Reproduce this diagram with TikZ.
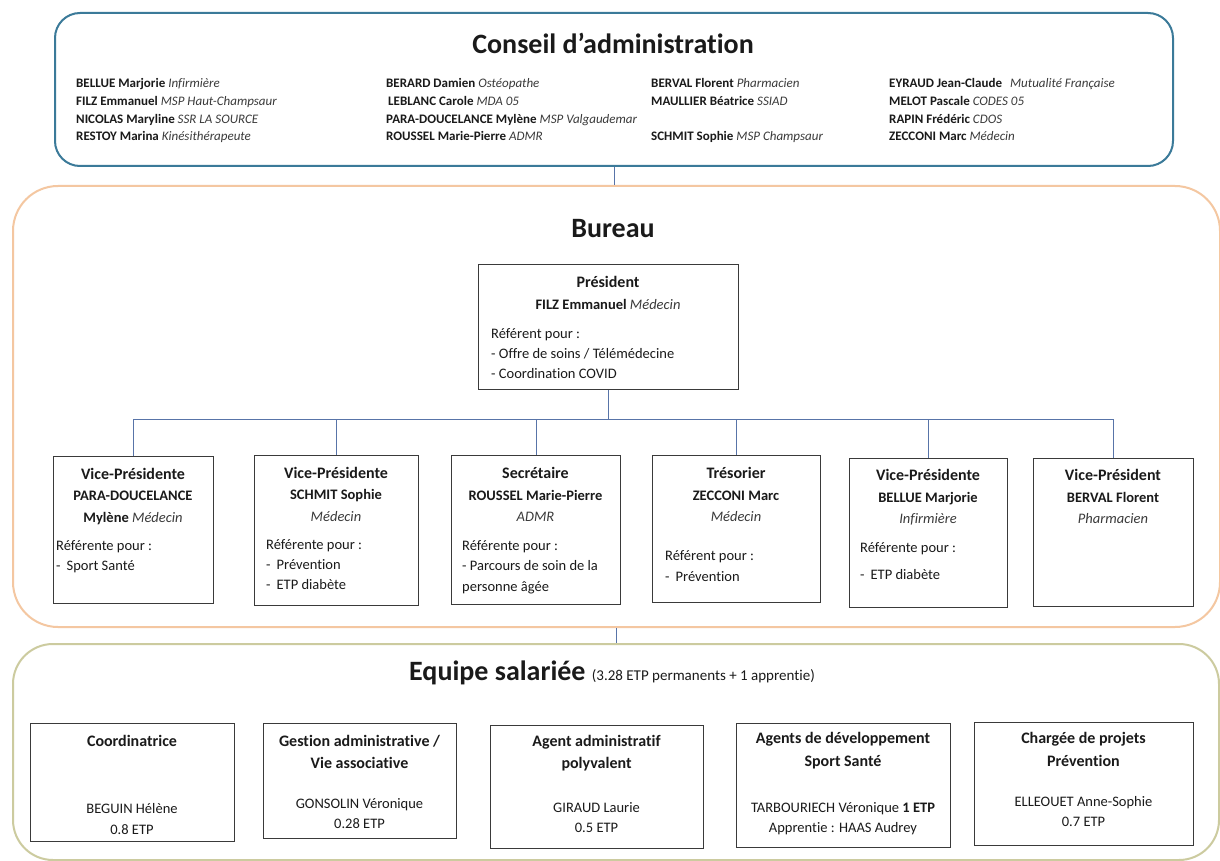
\documentclass[tikz,border=0pt]{standalone}
\usepackage{fontspec}
\setmainfont{Carlito}[Ligatures=NoCommon]
\definecolor{cablue}{HTML}{3B7A99}
\definecolor{bupeach}{HTML}{F4C7A1}
\definecolor{eqolive}{HTML}{CCCB9F}
\definecolor{linkblue}{HTML}{5874A8}
\definecolor{boxgray}{HTML}{3A3A3A}
\definecolor{txtblack}{HTML}{1A1A1A}
\definecolor{roleg}{HTML}{3A3A3A}
\newcommand{\rolet}[1]{{\mdseries\itshape\color{roleg}#1}}
\begin{document}
\begin{tikzpicture}[x=1pt,y=-1pt,
  panel/.style={line width=2pt, fill=white, inner sep=0pt, anchor=north west},
  bbox/.style={draw=boxgray, line width=1.3pt, fill=white, inner sep=0pt, anchor=north west},
  link/.style={draw=linkblue, line width=1pt},
  ttl/.style={font=\fontsize{28}{32}\selectfont\bfseries, text=txtblack, anchor=base, inner sep=0pt},
  mem/.style={font=\fontsize{13}{15}\selectfont, text=txtblack, anchor=base west, inner sep=0pt},
  hd/.style={font=\fontsize{16}{19}\selectfont\bfseries, text=txtblack, anchor=base, inner sep=0pt},
  tx/.style={font=\fontsize{14.5}{17}\selectfont, text=txtblack, anchor=base, inner sep=0pt},
  txl/.style={tx, anchor=base west}]
\useasboundingbox (0,0) rectangle (1220,861);
\fill[white] (0,0) rectangle (1220,861);

% panels
\node[panel, draw=cablue, rounded corners=25pt, minimum width=1118pt, minimum height=153pt] (conseil) at (54,12) {};
\node[panel, draw=bupeach, rounded corners=45pt, minimum width=1207pt, minimum height=441pt] (bureau) at (12,185) {};
\node[panel, draw=eqolive, rounded corners=40pt, minimum width=1206pt, minimum height=216pt] (equipe) at (12,643) {};
\draw[link] (conseil.south) -- (conseil.south |- bureau.north);
\draw[link] (bureau.south) -- (bureau.south |- equipe.north);

% Conseil
\node[ttl] (tConseil) at (613,54) {Conseil d’administration};
\node[mem] (m11) at (76,88) {\textbf{BELLUE Marjorie} \rolet{Infirmière}};
\node[mem] (m21) at (76,106) {\textbf{FILZ Emmanuel} \rolet{MSP Haut-Champsaur}};
\node[mem] (m31) at (76,123.5) {\textbf{NICOLAS Maryline} \rolet{SSR LA SOURCE}};
\node[mem] (m41) at (76,141) {\textbf{RESTOY Marina} \rolet{Kinésithérapeute}};
\node[mem] (m12) at (386,88) {\textbf{BERARD Damien} \rolet{Ostéopathe}};
\node[mem] (m22) at (388,106) {\textbf{LEBLANC Carole} \rolet{MDA 05}};
\node[mem] (m32) at (386,123.5) {\textbf{PARA-DOUCELANCE Mylène} \rolet{MSP Valgaudemar}};
\node[mem] (m42) at (386,141) {\textbf{ROUSSEL Marie-Pierre} \rolet{ADMR}};
\node[mem] (m13) at (651,88) {\textbf{BERVAL Florent} \rolet{Pharmacien}};
\node[mem] (m23) at (651,106) {\textbf{MAULLIER Béatrice} \rolet{SSIAD}};
\node[mem] (m43) at (651,141) {\textbf{SCHMIT Sophie} \rolet{MSP Champsaur}};
\node[mem] (m14) at (889,88) {\textbf{EYRAUD Jean-Claude}\hspace{8pt}\rolet{Mutualité Française}};
\node[mem] (m24) at (889,106) {\textbf{MELOT Pascale} \rolet{CODES 05}};
\node[mem] (m34) at (889,123.5) {\textbf{RAPIN Frédéric} \rolet{CDOS}};
\node[mem] (m44) at (889,141) {\textbf{ZECCONI Marc} \rolet{Médecin}};

% Bureau
\node[ttl] (tBureau) at (613,237) {Bureau};
\node[bbox, minimum width=260pt, minimum height=125pt] (pres) at (478,264) {};
\node[bbox, minimum width=160pt, minimum height=147pt] (v1) at (53,456) {};
\node[bbox, minimum width=164pt, minimum height=150pt] (v2) at (254,455) {};
\node[bbox, minimum width=169pt, minimum height=149pt] (v3) at (451,455) {};
\node[bbox, minimum width=168pt, minimum height=147pt] (v4) at (652,455) {};
\node[bbox, minimum width=158pt, minimum height=149pt] (v5) at (849,458) {};
\node[bbox, minimum width=160pt, minimum height=148pt] (v6) at (1033,458) {};
\coordinate (bus) at (613,419);
\draw[link] (pres.south) -- (pres.south |- bus);
\draw[link] (v1.north |- bus) -- (v6.north |- bus);
\foreach \b in {v1,v2,v3,v4,v5,v6} \draw[link] (\b.north |- bus) -- (\b.north);

\node[hd] (p1) at (608,287.5) {Président};
\node[tx] (p2) at (608,309) {\textbf{FILZ Emmanuel} \rolet{Médecin}};
\node[txl] (p3) at (491,338) {Référent pour :};
\node[txl] (p4) at (491,358) {- Offre de soins / Télémédecine};
\node[txl] (p5) at (491,378) {- Coordination COVID};

\node[hd] (a1) at (133,479.5) {Vice-Présidente};
\node[tx] (a2) at (133,500) {\textbf{PARA-DOUCELANCE}};
\node[tx] (a3) at (133,522) {\textbf{Mylène} \rolet{Médecin}};
\node[txl] (a4) at (56,550) {Référente pour :};
\node[txl] (a5) at (56,570) {-\hspace{6pt}Sport Santé};

\node[hd] (b1) at (336,478.5) {Vice-Présidente};
\node[tx] (b2) at (336,499) {\textbf{SCHMIT Sophie}};
\node[tx] (b3) at (336,521) {\rolet{Médecin}};
\node[txl] (b4) at (266,549) {Référente pour :};
\node[txl] (b5) at (266,569) {-\hspace{6pt}Prévention};
\node[txl] (b6) at (266,589) {-\hspace{6pt}ETP diabète};

\node[hd] (c1) at (535.5,478.5) {Secrétaire};
\node[tx] (c2) at (535.5,500) {\textbf{ROUSSEL Marie-Pierre}};
\node[tx] (c3) at (535.5,521) {\rolet{ADMR}};
\node[txl] (c4) at (462,550) {Référente pour :};
\node[txl] (c5) at (462,570) {- Parcours de soin de la};
\node[txl] (c6) at (462,591) {personne âgée};

\node[hd] (d1) at (736,478.5) {Trésorier};
\node[tx] (d2) at (736,500) {\textbf{ZECCONI Marc}};
\node[tx] (d3) at (736,521) {\rolet{Médecin}};
\node[txl] (d4) at (665,560) {Référent pour :};
\node[txl] (d5) at (665,581) {-\hspace{6pt}Prévention};

\node[hd] (e1) at (928,480.5) {Vice-Présidente};
\node[tx] (e2) at (928,502) {\textbf{BELLUE Marjorie}};
\node[tx] (e3) at (928,523) {\rolet{Infirmière}};
\node[txl] (e4) at (860,552) {Référente pour :};
\node[txl] (e5) at (860,579) {-\hspace{6pt}ETP diabète};

\node[hd] (f1) at (1113,480.5) {Vice-Président};
\node[tx] (f2) at (1113,502) {\textbf{BERVAL Florent}};
\node[tx] (f3) at (1113,523) {\rolet{Pharmacien}};

% Equipe
\node[ttl, anchor=base west] (tEquipe) at (409,680) {Equipe salariée {\fontsize{15}{17}\selectfont\mdseries (3.28 ETP permanents + 1 apprentie)}};
\node[bbox, minimum width=204pt, minimum height=118pt] (eA) at (30,723) {};
\node[bbox, minimum width=193pt, minimum height=115pt] (eB) at (263,723) {};
\node[bbox, minimum width=213pt, minimum height=123pt] (eC) at (490,725) {};
\node[bbox, minimum width=214pt, minimum height=124pt] (eD) at (736,723) {};
\node[bbox, minimum width=219pt, minimum height=123pt] (eE) at (974,722) {};

\node[hd] (ea1) at (132,746.5) {Coordinatrice};
\node[tx] (ea2) at (132,813) {BEGUIN Hélène};
\node[tx] (ea3) at (132,834) {0.8 ETP};

\node[hd] (eb1) at (359.5,746.5) {Gestion administrative /};
\node[hd] (eb2) at (359.5,768.5) {Vie associative};
\node[tx] (eb3) at (359.5,808) {GONSOLIN Véronique};
\node[tx] (eb4) at (359.5,828) {0.28 ETP};

\node[hd] (ec1) at (596.5,746.5) {Agent administratif};
\node[hd] (ec2) at (596.5,768.5) {polyvalent};
\node[tx] (ec3) at (596.5,812) {GIRAUD Laurie};
\node[tx] (ec4) at (596.5,832) {0.5 ETP};

\node[hd] (ed1) at (843,743.5) {Agents de développement};
\node[hd] (ed2) at (843,766.5) {Sport Santé};
\node[tx] (ed3) at (843,812) {TARBOURIECH Véronique \textbf{1 ETP}};
\node[tx] (ed4) at (843,832) {Apprentie : HAAS Audrey};

\node[hd] (ee1) at (1083.5,743.5) {Chargée de projets};
\node[hd] (ee2) at (1083.5,766.5) {Prévention};
\node[tx] (ee3) at (1083.5,806) {ELLEOUET Anne-Sophie};
\node[tx] (ee4) at (1083.5,826) {0.7 ETP};
\end{tikzpicture}
\end{document}
